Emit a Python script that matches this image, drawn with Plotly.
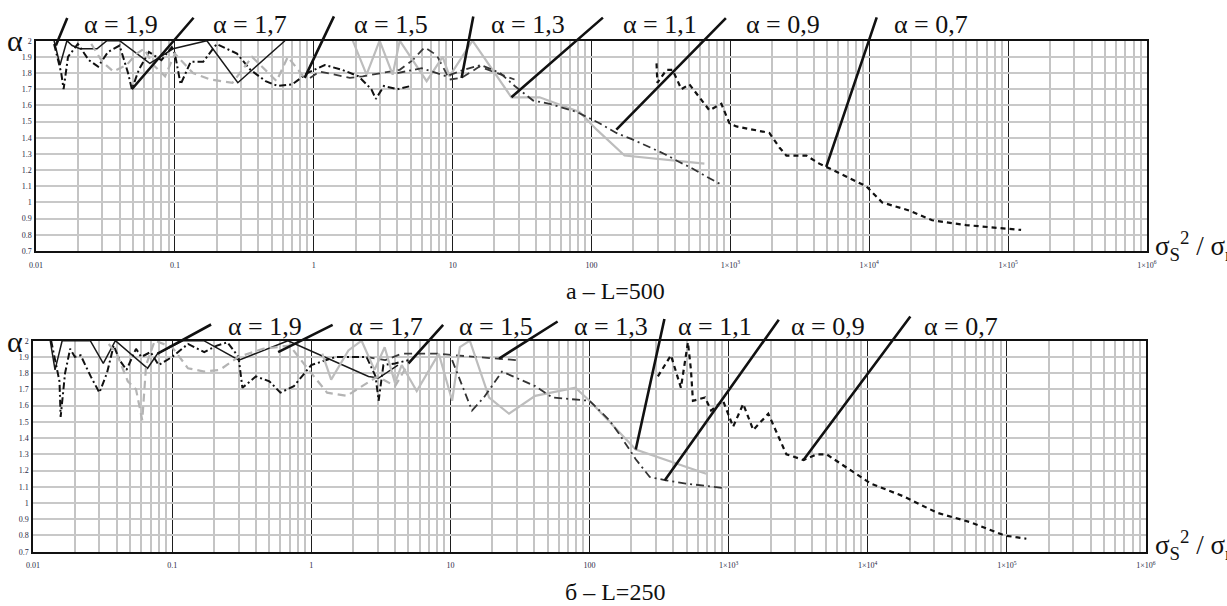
import math
import plotly.graph_objects as go

# ---------------- data ----------------
# Panel a: L=500
a19_x = [0.0135, 0.0149, 0.0167, 0.0182, 0.0207, 0.0275, 0.0324, 0.040, 0.066, 0.097, 0.17, 0.284, 0.62]
a19_y = [2.0, 1.85, 2.0, 1.97, 1.95, 1.95, 2.0, 2.0, 1.86, 1.95, 2.0, 1.74, 2.0]

a17_x = [0.0135, 0.0152, 0.0158, 0.017, 0.02, 0.024, 0.028, 0.033, 0.04, 0.046, 0.049, 0.055, 0.065, 0.08,
         0.095, 0.1, 0.11, 0.13, 0.16, 0.2, 0.28, 0.35, 0.45, 0.55, 0.7, 0.9, 1.2, 1.6, 2.1, 2.6, 2.8, 3.2, 4.0, 5.0]
a17_y = [1.98, 1.80, 1.70, 1.90, 1.98, 1.88, 1.84, 1.93, 1.97, 1.80, 1.70, 1.82, 1.93, 1.88,
         1.96, 1.92, 1.73, 1.87, 1.87, 1.98, 1.92, 1.82, 1.75, 1.72, 1.73, 1.80, 1.85, 1.82, 1.78, 1.70, 1.64, 1.72, 1.70, 1.72]

a15_x = [0.025, 0.03, 0.036, 0.045, 0.053, 0.06, 0.07, 0.085, 0.1, 0.135, 0.18, 0.26, 0.36, 0.45, 0.54, 0.65, 0.86]
a15_y = [1.98, 1.87, 1.81, 1.85, 1.92, 1.95, 1.85, 1.78, 1.92, 1.80, 1.76, 1.74, 1.90, 1.82, 1.75, 1.90, 1.77]

a13_x = [0.94, 1.10, 1.82, 2.25, 4.16, 5.16, 6.29, 7.68, 9.51, 11.6, 15.6, 20.7, 27.9]
a13_y = [1.77, 1.81, 1.77, 1.78, 1.82, 1.88, 1.96, 1.91, 1.76, 1.77, 1.84, 1.80, 1.76]

a11_x = [1.91, 2.40, 2.98, 3.70, 4.16, 6.5, 8.48, 9.5, 13.9, 26.5, 42.3, 82, 109, 173, 650]
a11_y = [2.0, 1.79, 2.0, 1.79, 2.0, 1.75, 1.90, 1.78, 2.0, 1.65, 1.65, 1.56, 1.45, 1.29, 1.24]

a09_x = [4, 6, 9, 12, 16, 22, 28, 38, 50, 78, 114, 151, 197, 261, 335, 429, 533, 671, 861]
a09_y = [1.80, 1.83, 1.78, 1.82, 1.85, 1.80, 1.72, 1.63, 1.61, 1.56, 1.49, 1.43, 1.39, 1.34, 1.30, 1.25, 1.21, 1.16, 1.11]

a07_x = [294, 298, 347, 383, 444, 507, 706, 861, 984, 1105, 1909, 2254, 2530, 3527, 4368, 4909,
         9513, 12400, 19400, 28400, 49900, 86100, 124000]
a07_y = [1.86, 1.74, 1.82, 1.82, 1.70, 1.73, 1.57, 1.61, 1.49, 1.47, 1.43, 1.34, 1.29, 1.29, 1.24, 1.22,
         1.10, 1.00, 0.95, 0.89, 0.86, 0.84, 0.83]

# Panel b: L=250
b19_x = [0.0133, 0.0144, 0.0162, 0.0258, 0.032, 0.0391, 0.0666, 0.0786, 0.12, 0.169, 0.302, 0.68, 2.58, 3.05, 4.2]
b19_y = [2.0, 1.82, 2.0, 2.0, 1.86, 2.0, 1.83, 1.92, 2.0, 2.0, 1.88, 2.0, 1.78, 1.77, 1.85]

b17_x = [0.0135, 0.0155, 0.0158, 0.017, 0.0185, 0.02, 0.022, 0.026, 0.03, 0.034, 0.038, 0.042, 0.047, 0.055,
         0.06, 0.07, 0.08, 0.1, 0.13, 0.17, 0.21, 0.25, 0.3, 0.32, 0.4, 0.5, 0.6, 0.75, 1.0, 1.5, 2.5, 2.9,
         3.05, 3.3, 4.0, 5.0]
b17_y = [2.0, 1.75, 1.53, 1.80, 1.95, 1.90, 1.91, 1.78, 1.68, 1.80, 1.97, 1.88, 1.82, 1.95,
         1.90, 1.93, 1.85, 1.90, 1.98, 1.93, 1.97, 1.99, 1.90, 1.71, 1.78, 1.75, 1.68, 1.72, 1.85, 1.90, 1.90, 1.78,
         1.63, 1.85, 1.86, 1.88]

b15_x = [0.035, 0.04, 0.048, 0.055, 0.061, 0.065, 0.075, 0.1, 0.13, 0.17, 0.22, 0.3, 0.45, 0.7, 1.0, 1.3,
         1.8, 2.5, 3.0, 4.0, 5.0]
b15_y = [1.98, 1.92, 1.75, 1.70, 1.51, 1.85, 2.0, 1.96, 1.83, 1.81, 1.82, 1.90, 1.95, 1.97, 1.80, 1.68,
         1.66, 1.74, 1.78, 1.72, 1.86]

b13_x = [2.5, 3.4, 4.47, 8.26, 10.8, 16, 22.4, 30.2]
b13_y = [1.90, 1.88, 1.92, 1.92, 1.91, 1.90, 1.89, 1.88]

b11_x = [1.2, 1.39, 1.85, 2.3, 2.85, 3.37, 4.0, 4.47, 5.73, 8.26, 10.3, 11.7, 13.8, 19.0, 26.4, 40.7, 79.2,
         100, 215, 689]
b11_y = [1.92, 1.76, 1.94, 2.0, 1.82, 1.96, 1.74, 1.85, 1.69, 1.92, 1.63, 1.96, 2.0, 1.65, 1.55, 1.66, 1.71,
         1.63, 1.33, 1.18]

b09_x = [10.3, 14.3, 17.4, 23.5, 40.7, 54, 100, 139, 165, 215, 271, 354, 493, 959]
b09_y = [1.88, 1.57, 1.65, 1.81, 1.72, 1.65, 1.63, 1.51, 1.42, 1.27, 1.16, 1.14, 1.12, 1.09]

b07_x = [310, 385, 454, 510, 536, 554, 677, 748, 912, 1077, 1273, 1503, 1928, 2393, 2600, 3450, 4283, 5060,
         10500, 18200, 31500, 55400, 95900, 138000]
b07_y = [1.78, 1.91, 1.71, 1.99, 1.82, 1.63, 1.65, 1.57, 1.63, 1.47, 1.61, 1.45, 1.55, 1.37, 1.30, 1.265,
         1.30, 1.30, 1.12, 1.04, 0.94, 0.88, 0.80, 0.78]

# Labels and the curve points their leader lines touch
alpha_labels = ["α = 1,9", "α = 1,7", "α = 1,5", "α = 1,3", "α = 1,1", "α = 0,9", "α = 0,7"]
a_lead_x = [0.0139, 0.049, 0.86, 11.6, 26.5, 151, 4900]
a_lead_y = [1.97, 1.70, 1.77, 1.77, 1.65, 1.45, 1.22]
b_lead_x = [0.0786, 0.578, 5.0, 22.4, 215, 348, 3450]
b_lead_y = [1.92, 1.93, 1.86, 1.89, 1.33, 1.14, 1.265]

x_tickvals = [0.01, 0.1, 1, 10, 100, 1e3, 1e4, 1e5, 1e6]
x_ticktext = ["0.01", "0.1", "1", "10", "100", "1×10<sup>3</sup>", "1×10<sup>4</sup>",
              "1×10<sup>5</sup>", "1×10<sup>6</sup>"]
y_tickvals = [0.7, 0.8, 0.9, 1.0, 1.1, 1.2, 1.3, 1.4, 1.5, 1.6, 1.7, 1.8, 1.9, 2.0]
y_ticktext = ["0.7", "0.8", "0.9", "1", "1.1", "1.2", "1.3", "1.4", "1.5", "1.6", "1.7", "1.8", "1.9", "2"]

captions = ["а – L=500", "б – L=250"]

# ---------------- figure ----------------
W, H = 1227, 606
SERIF = "Liberation Serif"

styles = [
    dict(color="#1a1a1a", width=1.5, dash="solid"),                 # 1.9
    dict(color="#111111", width=2.0, dash="7px,3px,2px,3px"),       # 1.7
    dict(color="#b4b4b4", width=2.2, dash="8px,5px"),               # 1.5
    dict(color="#3a3a3a", width=1.8, dash="8px,5px"),               # 1.3
    dict(color="#bdbdbd", width=2.2, dash="solid"),                 # 1.1
    dict(color="#333333", width=1.8, dash="8px,4px,2px,4px"),       # 0.9
    dict(color="#111111", width=2.2, dash="5px,4px"),               # 0.7
]

fig = go.Figure()

a_series = [(a19_x, a19_y), (a17_x, a17_y), (a15_x, a15_y), (a13_x, a13_y),
            (a11_x, a11_y), (a09_x, a09_y), (a07_x, a07_y)]
b_series = [(b19_x, b19_y), (b17_x, b17_y), (b15_x, b15_y), (b13_x, b13_y),
            (b11_x, b11_y), (b09_x, b09_y), (b07_x, b07_y)]

for (xs, ys), st in zip(a_series, styles):
    fig.add_trace(go.Scatter(x=xs, y=ys, mode="lines", line=st, xaxis="x", yaxis="y",
                             showlegend=False, hoverinfo="skip"))
for (xs, ys), st in zip(b_series, styles):
    fig.add_trace(go.Scatter(x=xs, y=ys, mode="lines", line=st, xaxis="x2", yaxis="y2",
                             showlegend=False, hoverinfo="skip"))

minor_vals = [m * 10.0 ** e for e in range(-2, 6) for m in range(2, 10)]


def xaxis_cfg(domain, anchor):
    return dict(
        type="log", range=[-2, 6], domain=domain, anchor=anchor,
        tickvals=x_tickvals, ticktext=x_ticktext, ticks="",
        tickfont=dict(family=SERIF, size=8, color="#2a2a44"),
        ticklabelstandoff=5,
        showgrid=True, gridcolor="#1e1e1e", gridwidth=1.3,
        minor=dict(tickvals=minor_vals, showgrid=True, gridcolor="#c4c4c4", gridwidth=1.5, ticks=""),
        showline=True, linecolor="#111111", linewidth=2, mirror=True,
        zeroline=False, automargin=False,
    )


def yaxis_cfg(domain, anchor):
    return dict(
        range=[0.7, 2.0], domain=domain, anchor=anchor,
        tickvals=y_tickvals, ticktext=y_ticktext, ticks="",
        tickfont=dict(family=SERIF, size=8, color="#2a2a44"),
        ticklabelstandoff=1,
        showgrid=True, gridcolor="#c8c8c8", gridwidth=1.5,
        showline=True, linecolor="#111111", linewidth=1.5, mirror=True,
        zeroline=False, automargin=False,
    )


fig.update_layout(
    width=W, height=H,
    margin=dict(l=0, r=0, t=0, b=0),
    paper_bgcolor="white", plot_bgcolor="white",
    xaxis=xaxis_cfg([36 / W, 1147 / W], "y"),
    yaxis=yaxis_cfg([1 - 251 / H, 1 - 40.7 / H], "x"),
    xaxis2=xaxis_cfg([33 / W, 1146 / W], "y2"),
    yaxis2=yaxis_cfg([1 - 551.7 / H, 1 - 340.7 / H], "x2"),
)

ann = []
a_label_px = [82, 211, 352, 489, 621, 744, 892]
b_label_px = [226, 347, 457, 572, 676, 789, 922]
a_tail = [(12, -29), (63, -73), (30, -63), (12, -63), (93, -81), (111, -113), (51, -151)]
b_tail = [(55, -30), (56, -28), (36, -40), (60, -38), (29, -132), (115, -162), (108, -145)]

for i, lab in enumerate(alpha_labels):
    ann.append(dict(text=lab, xref="paper", yref="paper", x=a_label_px[i] / W, y=1 - 24 / H,
                    xanchor="left", yanchor="middle", showarrow=False,
                    font=dict(family=SERIF, size=26, color="#111")))
    ann.append(dict(text=lab, xref="paper", yref="paper", x=b_label_px[i] / W, y=1 - 326 / H,
                    xanchor="left", yanchor="middle", showarrow=False,
                    font=dict(family=SERIF, size=26, color="#111")))
    ann.append(dict(text="", xref="x", yref="y", x=math.log10(a_lead_x[i]), y=a_lead_y[i],
                    ax=a_tail[i][0], ay=a_tail[i][1], showarrow=True, arrowhead=0,
                    arrowwidth=2.6, arrowcolor="#111", standoff=0, startstandoff=0))
    ann.append(dict(text="", xref="x2", yref="y2", x=math.log10(b_lead_x[i]), y=b_lead_y[i],
                    ax=b_tail[i][0], ay=b_tail[i][1], showarrow=True, arrowhead=0,
                    arrowwidth=2.6, arrowcolor="#111", standoff=0, startstandoff=0))

# y-axis symbol
for yy in [41, 342]:
    ann.append(dict(text="α", xref="paper", yref="paper", x=5 / W, y=1 - yy / H,
                    xanchor="left", yanchor="middle", showarrow=False,
                    font=dict(family=SERIF, size=30, color="#111")))

# x-axis title
xt = "σ<sub>S</sub><sup>2</sup> / σ<sub>n</sub><sup>2</sup>"
for yy in [246, 545]:
    ann.append(dict(text=xt, xref="paper", yref="paper", x=1153 / W, y=1 - yy / H,
                    xanchor="left", yanchor="middle", showarrow=False,
                    font=dict(family=SERIF, size=27, color="#111")))

# captions
ann.append(dict(text=captions[0], xref="paper", yref="paper", x=615 / W, y=1 - 291 / H,
                xanchor="center", yanchor="middle", showarrow=False,
                font=dict(family=SERIF, size=24, color="#111")))
ann.append(dict(text=captions[1], xref="paper", yref="paper", x=615 / W, y=1 - 592 / H,
                xanchor="center", yanchor="middle", showarrow=False,
                font=dict(family=SERIF, size=24, color="#111")))

fig.update_layout(annotations=ann)

fig.write_html("out.html",
               config={"displayModeBar": False},
               post_script="document.body.style.margin='0px';document.body.style.overflow='hidden';")
